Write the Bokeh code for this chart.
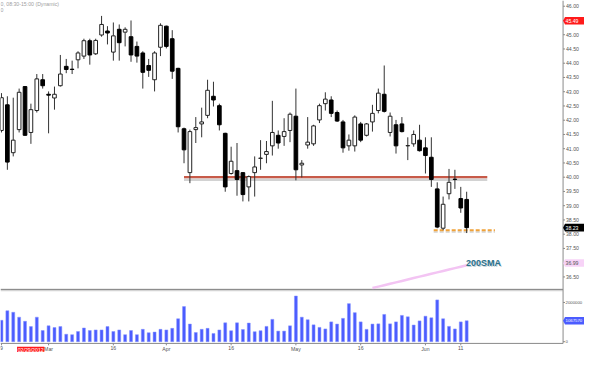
from bokeh.plotting import figure
from bokeh.models import Range1d
from bokeh.embed import file_html
from bokeh.resources import INLINE
from bokeh.core.properties import value

# ---------------- data ----------------
opens = [41.64, 42.54, 40.86, 41.67, 43.18, 41.57, 42.34, 43.42, 42.91, 42.78,
         43.21, 43.89, 43.79, 44.12, 44.25, 44.79, 44.33, 44.99, 45.13, 44.39,
         45.19, 45.09, 44.93, 44.59, 44.36, 43.92, 43.42, 44.56, 45.30, 44.86,
         43.82, 41.70, 40.16, 41.67, 41.87, 42.17, 42.84, 42.51, 41.54, 40.13,
         40.23, 40.16, 39.66, 40.16, 40.66, 40.80, 41.10, 41.47, 41.43, 41.64,
         42.14, 40.43, 41.13, 41.17, 42.01, 42.58, 42.71, 42.27, 41.94, 41.10,
         41.10, 41.87, 41.47, 41.94, 42.34, 42.91, 41.57, 41.84, 41.87, 41.10,
         41.17, 41.30, 41.03, 40.70, 39.59, 38.21, 39.42, 39.93, 39.25, 39.22]
highs = [42.95, 42.84, 42.79, 43.11, 43.20, 42.58, 43.62, 43.62, 43.01, 43.18,
         44.29, 44.15, 44.09, 44.42, 44.86, 44.86, 44.86, 45.66, 45.30, 45.43,
         45.36, 45.26, 45.50, 44.76, 44.42, 44.15, 44.42, 45.40, 45.32, 45.16,
         43.84, 41.74, 41.67, 42.11, 42.44, 43.42, 43.35, 42.58, 41.56, 41.07,
         41.20, 40.18, 40.06, 40.73, 41.30, 41.27, 42.68, 41.64, 42.07, 42.27,
         43.11, 40.60, 42.11, 41.84, 42.58, 42.98, 42.84, 42.34, 42.01, 41.50,
         42.17, 41.94, 41.90, 42.54, 43.11, 43.92, 42.27, 42.01, 42.11, 41.40,
         41.64, 41.84, 41.40, 41.40, 39.82, 39.32, 40.29, 40.26, 39.66, 39.49]
lows = [41.57, 40.26, 40.73, 41.57, 41.45, 41.17, 42.27, 43.11, 41.54, 42.37,
        43.18, 43.65, 43.62, 43.82, 44.15, 43.95, 44.29, 44.93, 44.66, 44.09,
        44.09, 44.59, 44.05, 44.02, 43.11, 43.52, 43.01, 44.25, 44.52, 43.45,
        41.57, 40.49, 39.79, 41.20, 41.40, 42.07, 42.48, 41.64, 39.49, 40.09,
        39.35, 39.15, 39.15, 39.32, 40.26, 40.49, 40.76, 41.00, 41.10, 41.23,
        39.89, 39.99, 41.00, 41.10, 41.90, 42.34, 42.11, 41.94, 40.86, 40.93,
        40.90, 41.23, 41.43, 41.60, 42.24, 42.27, 41.43, 40.83, 41.57, 40.60,
        41.07, 40.90, 40.13, 39.66, 38.21, 38.14, 39.22, 39.59, 38.75, 38.04]
closes = [42.79, 40.53, 41.30, 42.98, 41.47, 42.37, 43.45, 43.21, 42.88, 42.91,
          43.62, 43.78, 43.78, 44.36, 44.79, 44.29, 44.80, 45.36, 45.06, 44.96,
          44.72, 45.19, 44.29, 44.25, 43.68, 43.75, 44.36, 45.33, 44.59, 43.72,
          41.77, 40.96, 41.60, 41.74, 41.94, 43.05, 42.71, 41.84, 39.66, 40.56,
          39.92, 39.39, 40.02, 40.36, 40.67, 40.90, 41.57, 41.20, 41.60, 42.21,
          40.26, 40.49, 41.23, 41.80, 42.51, 42.74, 42.24, 41.97, 41.03, 41.30,
          42.11, 41.30, 41.87, 42.24, 42.95, 42.31, 42.14, 41.10, 41.60, 41.11,
          41.50, 40.93, 40.76, 39.92, 38.25, 39.05, 39.82, 39.92, 38.92, 38.23]
volumes = [1090000, 1580000, 1500000, 1250000, 1040000, 770000, 1250000, 570000, 810000, 720000,
           770000, 380000, 360000, 520000, 700000, 570000, 600000, 600000, 770000, 520000,
           600000, 360000, 570000, 360000, 630000, 460000, 490000, 630000, 600000, 680000,
           1170000, 1790000, 900000, 470000, 630000, 680000, 420000, 600000, 960000, 560000,
           960000, 620000, 950000, 510000, 560000, 780000, 1140000, 540000, 540000, 810000,
           2330000, 1250000, 1120000, 860000, 730000, 650000, 1010000, 900000, 1190000, 1940000,
           1480000, 1010000, 630000, 900000, 910000, 1390000, 910000, 1010000, 1340000, 1270000,
           850000, 1060000, 1300000, 1220000, 2130000, 1170000, 780000, 650000, 1010000, 1067570]
sma_idx = [63, 64, 65, 66, 67, 68, 69, 70, 71, 72, 73, 74, 75, 76, 77, 78, 79]
sma200 = [36.11, 36.16, 36.21, 36.26, 36.31, 36.36, 36.41, 36.46, 36.51, 36.56,
          36.61, 36.66, 36.71, 36.76, 36.81, 36.86, 36.91]
x_tick_idx = [0, 8, 19, 28, 39, 50, 61, 72, 78]
x_tick_labels = ["9", "Mar", "16", "Apr", "16", "May", "16", "Jun", "11"]
price_ticks = [36.5, 37.0, 37.5, 38.0, 38.5, 39.0, 39.5, 40.0, 40.5, 41.0,
               41.5, 42.0, 42.5, 43.0, 43.5, 44.0, 44.5, 45.0, 45.5, 46.0]
vol_ticks = [0, 2000000]
vol_tick_labels = ["0", "2000000"]
support_level = 40.00
support_span = [31, 82.5]
low_level = 38.14
low_span = [73.4, 83.8]
marker_high = 45.49
last_close = 38.23
last_sma = 36.99
last_volume = 1067570
date_flag = "02/29/2012"
date_flag_idx = 4.96

# ---------------- layout constants (style) ----------------
FONT = "Liberation Sans"
IPX = 1 / 6.05          # index units per reference pixel
PPX = 1 / 29.79         # price units per reference pixel
VPX = 1e6 / 20.5        # volume units per reference pixel
X0, X1 = -0.165, 99.01  # full canvas in index units
Y0, Y1 = 33.848, 46.201 # full canvas in price units
AXIS_X = 95.37          # right axis position
AXIS_Y = 34.167         # time axis position
SEP_Y = 36.064          # price / volume separator
idx = list(range(len(closes)))

p = figure(width=584, height=352, output_backend="svg", toolbar_location=None,
           x_range=Range1d(X0, X1), y_range=Range1d(Y0, Y1),
           x_axis_location=None, y_axis_location=None, min_border=0)
p.extra_y_ranges = {"vol": Range1d(-551000, 17400000)}
p.outline_line_color = None
p.grid.visible = False
p.background_fill_color = "white"
p.border_fill_color = "white"

TXT = dict(text_font=value(FONT), text_font_size="5.2px", text_color="#555555")
SMALL = dict(text_font=value(FONT), text_font_size="4.3px")

# panel separator
p.line([X0, AXIS_X], [SEP_Y - 1.2 * PPX] * 2, line_color="#d4d4d4", line_width=1.5)
p.line([X0, AXIS_X], [SEP_Y] * 2, line_color="#7a7a7a", line_width=1)

# volume bars
p.vbar(x=idx, top=volumes, width=0.5, bottom=0, y_range_name="vol",
       fill_color="#4b5cff", line_color="#8593ff", line_width=0.5)

# support / low lines with shadow
p.line(support_span, [support_level - 2.6 * PPX] * 2, line_color="#d2d2d2", line_width=2.5)
p.line(support_span, [support_level] * 2, line_color="#c75a48", line_width=2.2)
p.line(low_span, [low_level - 2 * PPX] * 2, line_color="#dcdcdc", line_width=2, line_dash="4 2")
p.line(low_span, [low_level] * 2, line_color="#f0a23a", line_width=2, line_dash="4 2")

# 200 SMA
p.line(sma_idx, sma200, line_color="#f3c4f3", line_width=2.5)

# candles
up = [i for i in idx if closes[i] >= opens[i]]
dn = [i for i in idx if closes[i] < opens[i]]
p.segment(x0=idx, y0=highs, x1=idx, y1=lows, line_color="#333333", line_width=1)
p.vbar(x=up, bottom=[opens[i] for i in up], top=[closes[i] for i in up], width=0.62,
       fill_color="white", line_color="#222222", line_width=1)
p.vbar(x=dn, bottom=[closes[i] for i in dn], top=[opens[i] for i in dn], width=0.62,
       fill_color="black", line_color="black", line_width=1)

# 200SMA tag
p.text(x=[78.9 + IPX], y=[37.0 - PPX], text=["200SMA"], text_baseline="middle",
       text_font=value(FONT), text_font_size="9px", text_font_style="bold", text_color="#c8d6dc")
p.text(x=[78.9], y=[37.0], text=["200SMA"], text_baseline="middle",
       text_font=value(FONT), text_font_size="9px", text_font_style="bold", text_color="#2a6f8a")

# header text (top-left)
p.text(x=[X0], y=[Y1 - 1 * PPX], text=["0, 08:30-15:00 (Dynamic)"], text_baseline="top",
       text_font=value(FONT), text_font_size="5.2px", text_color="#a0a0a0")
p.text(x=[X0], y=[Y1 - 8 * PPX], text=["0"], text_baseline="top",
       text_font=value(FONT), text_font_size="5.2px", text_color="#a0a0a0")

# ---------- right value axis ----------
p.segment(x0=[AXIS_X], y0=[Y1], x1=[AXIS_X], y1=[AXIS_Y], line_color="#8a8a8a", line_width=1)
p.segment(x0=[AXIS_X] * len(price_ticks), y0=price_ticks,
          x1=[AXIS_X + 2 * IPX] * len(price_ticks), y1=price_ticks, line_color="#8a8a8a")
p.text(x=[AXIS_X + 3 * IPX] * len(price_ticks), y=price_ticks,
       text=[f"{t:.2f}" for t in price_ticks], text_baseline="middle", **TXT)
p.segment(x0=[AXIS_X] * len(vol_ticks), y0=vol_ticks, x1=[AXIS_X + 2 * IPX] * len(vol_ticks),
          y1=vol_ticks, line_color="#8a8a8a", y_range_name="vol")
p.text(x=[AXIS_X + 2.5 * IPX] * len(vol_ticks), y=vol_ticks, text=vol_tick_labels,
       text_baseline="middle", y_range_name="vol", text_color="#555555", **SMALL)

# value flags on the right axis
def flag(yv, half, txt, bg, fg, rng="default", style=None):
    xs = [AXIS_X, AXIS_X + 2 * IPX, X1, X1, AXIS_X + 2 * IPX]
    ys = [yv, yv + half, yv + half, yv - half, yv - half]
    p.patch(xs, ys, fill_color=bg, line_color=None, y_range_name=rng)
    st = style or dict(text_font=value(FONT), text_font_size="5.2px")
    p.text(x=[AXIS_X + 2.5 * IPX], y=[yv], text=[txt], text_baseline="middle",
           text_color=fg, y_range_name=rng, **st)

flag(marker_high, 4 * PPX, f"{marker_high:.2f}", "#ff1a1a", "white")
flag(last_close, 4 * PPX, f"{last_close:.2f}", "black", "white")
flag(last_sma, 4 * PPX, f"{last_sma:.2f}", "#f7d3f7", "#555555")
flag(last_volume, 4 * VPX, str(last_volume), "#4b5cff", "white", rng="vol", style=SMALL)

# ---------- time axis ----------
p.segment(x0=[X0], y0=[AXIS_Y], x1=[AXIS_X], y1=[AXIS_Y], line_color="#8a8a8a", line_width=1)
p.segment(x0=x_tick_idx, y0=[AXIS_Y] * len(x_tick_idx), x1=x_tick_idx,
          y1=[AXIS_Y - 2 * PPX] * len(x_tick_idx), line_color="#8a8a8a")
p.text(x=x_tick_idx, y=[AXIS_Y - 3 * PPX] * len(x_tick_idx), text=x_tick_labels,
       text_align="center", text_baseline="top", **TXT)

# date flag on the time axis
p.quad(left=[date_flag_idx - 14 * IPX], right=[date_flag_idx + 14 * IPX],
       top=[AXIS_Y - 3.5 * PPX], bottom=[Y0], fill_color="#ff1a1a", line_color=None)
p.text(x=[date_flag_idx], y=[AXIS_Y - 6.5 * PPX], text=[date_flag], text_align="center",
       text_baseline="middle", text_font=value(FONT), text_font_size="5.2px", text_color="white")

open("out.html", "w").write(file_html(p, INLINE))
